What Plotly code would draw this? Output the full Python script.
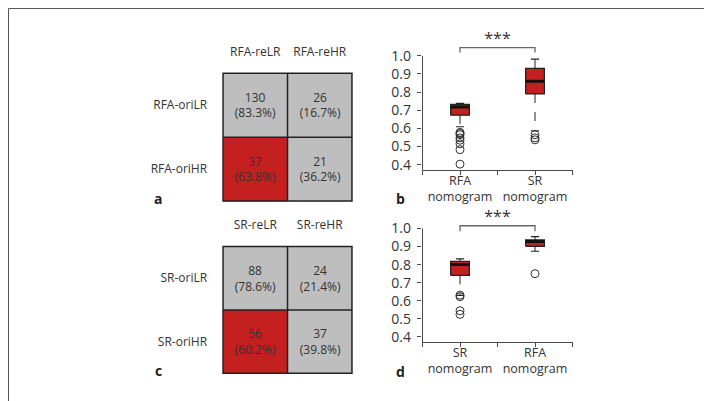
import plotly.graph_objects as go

W, H = 712, 401
RED = "#C4201F"
GRAY = "#BEBEBE"
INK = "#333333"
LINE = "#4a4a4a"
FONT = "Open Sans"

# panels a and c: original vs re-estimated risk groups
a_cols = ["RFA-reLR", "RFA-reHR"]
a_rows = ["RFA-oriLR", "RFA-oriHR"]
a_counts = [[130, 26], [37, 21]]
a_pcts = [[83.3, 16.7], [63.8, 36.2]]
a_flag = [[0, 0], [1, 0]]

c_cols = ["SR-reLR", "SR-reHR"]
c_rows = ["SR-oriLR", "SR-oriHR"]
c_counts = [[88, 24], [56, 37]]
c_pcts = [[78.6, 21.4], [60.2, 39.8]]
c_flag = [[0, 0], [1, 0]]

# panels b and d: boxplot statistics
b_labels = ["RFA<br>nomogram", "SR<br>nomogram"]
b_q1 = [0.673, 0.790]
b_med = [0.718, 0.860]
b_q3 = [0.733, 0.931]
b_lo = [0.609, 0.587]
b_hi = [0.738, 0.982]
b_out = [[0.578, 0.572, 0.565, 0.548, 0.535, 0.515, 0.483, 0.403], [0.565, 0.548, 0.537]]

d_labels = ["SR<br>nomogram", "RFA<br>nomogram"]
d_q1 = [0.741, 0.901]
d_med = [0.800, 0.928]
d_q3 = [0.818, 0.936]
d_lo = [0.630, 0.874]
d_hi = [0.832, 0.955]
d_out = [[0.631, 0.623, 0.545, 0.525], [0.750]]

# significance brackets
b_sig = dict(top=1.045, foot=1.018, star=1.087)
d_sig = dict(top=1.015, foot=0.985, star=1.057)

y_ticks = [0.4, 0.5, 0.6, 0.7, 0.8, 0.9, 1.0]


def px_x(a, b):
    return [a / W, b / W]


def px_y(top, bottom):
    return [1 - bottom / H, 1 - top / H]


def ax_id(n):
    return ("x", "y") if n == 1 else (f"x{n}", f"y{n}")


fig = go.Figure()


def add_table(n, cols, rows, counts, pcts, flag):
    xa, ya = ax_id(n)
    txt = [[f"{counts[i][j]}<br>({pcts[i][j]:.1f}%)" for j in range(2)] for i in range(2)]
    fig.add_trace(go.Heatmap(
        z=flag, x=cols, y=rows, text=txt, texttemplate="%{text}",
        textfont=dict(family=FONT, size=12, color=INK),
        colorscale=[[0, GRAY], [1, RED]], zmin=0, zmax=1, showscale=False,
        hoverinfo="skip", xaxis=xa, yaxis=ya))
    ref = dict(xref=xa, yref=ya, line=dict(color="#222", width=1.5))
    fig.add_shape(type="rect", x0=-0.5, x1=1.5, y0=-0.5, y1=1.5, **ref)
    fig.add_shape(type="line", x0=0.5, x1=0.5, y0=-0.5, y1=1.5, **ref)
    fig.add_shape(type="line", x0=-0.5, x1=1.5, y0=0.5, y1=0.5, **ref)


def add_boxes(n, q1, med, q3, lo, hi, out, sig):
    xa, ya = ax_id(n)
    w, cw = 0.125, 0.055
    for k in range(2):
        p = k + 1
        dash = dict(color="#222", width=1, dash="dash")
        fig.add_trace(go.Scatter(x=[p, p, None, p, p], y=[q3[k], hi[k], None, q1[k], lo[k]],
                                 mode="lines", line=dash, xaxis=xa, yaxis=ya, hoverinfo="skip"))
        fig.add_trace(go.Scatter(x=[p - cw, p + cw, None, p - cw, p + cw], y=[hi[k], hi[k], None, lo[k], lo[k]],
                                 mode="lines", line=dict(color="#222", width=1.2), xaxis=xa, yaxis=ya, hoverinfo="skip"))
        fig.add_trace(go.Scatter(x=[p - w, p + w, p + w, p - w, p - w], y=[q1[k], q1[k], q3[k], q3[k], q1[k]],
                                 mode="lines", fill="toself", fillcolor=RED,
                                 line=dict(color="#222", width=1.3), xaxis=xa, yaxis=ya, hoverinfo="skip"))
        fig.add_trace(go.Scatter(x=[p - w, p + w], y=[med[k], med[k]], mode="lines",
                                 line=dict(color="#111", width=3), xaxis=xa, yaxis=ya, hoverinfo="skip"))
        fig.add_trace(go.Scatter(x=[p] * len(out[k]), y=out[k], mode="markers",
                                 marker=dict(symbol="circle-open", size=8, color="#333", line=dict(width=1)),
                                 xaxis=xa, yaxis=ya, hoverinfo="skip"))
    # bracket + stars
    fig.add_trace(go.Scatter(x=[1, 1, 2, 2], y=[sig["foot"], sig["top"], sig["top"], sig["foot"]],
                             mode="lines", line=dict(color="#666", width=1.3), xaxis=xa, yaxis=ya, hoverinfo="skip"))
    fig.add_trace(go.Scatter(x=[1.5], y=[sig["star"]], mode="text", text=["***"], cliponaxis=False,
                             textfont=dict(family=FONT, size=16, color=INK), xaxis=xa, yaxis=ya, hoverinfo="skip"))
    # y axis line from bottom to 1.0
    fig.add_shape(type="line", xref=xa, yref=ya, x0=0.5, x1=0.5, y0=0.3, y1=1.0,
                  line=dict(color=LINE, width=1))


add_table(1, a_cols, a_rows, a_counts, a_pcts, a_flag)
add_boxes(2, b_q1, b_med, b_q3, b_lo, b_hi, b_out, b_sig)
add_table(3, c_cols, c_rows, c_counts, c_pcts, c_flag)
add_boxes(4, d_q1, d_med, d_q3, d_lo, d_hi, d_out, d_sig)

tfont = dict(family=FONT, size=12, color=INK)
tab_x = dict(range=[-0.53, 1.53], side="top", ticks="", showgrid=False, zeroline=False,
             tickfont=tfont, fixedrange=True, ticklabelstandoff=12)
tab_y = dict(range=[1.53, -0.53], ticks="", showgrid=False, zeroline=False,
             tickfont=tfont, fixedrange=True, ticklabelstandoff=13)

box_x = dict(range=[0.49, 2.5], tickvals=[0.5, 1, 1.5, 2, 2.5], showgrid=False, zeroline=False,
             showline=True, linecolor=LINE, linewidth=1, ticks="outside", ticklen=4,
             tickcolor=LINE, tickfont=dict(family=FONT, size=12.5, color=INK),
             ticklabelstandoff=-5)
box_y = dict(range=[0.372, 1.1], tickvals=y_ticks, tickformat=".1f", showgrid=False,
             zeroline=False, showline=False, ticks="outside", ticklen=4, tickcolor=LINE,
             tickfont=dict(family=FONT, size=14, color=INK), ticklabelstandoff=3)

fig.update_layout(
    width=W, height=H, margin=dict(l=0, r=0, t=0, b=0),
    paper_bgcolor="white", plot_bgcolor="rgba(0,0,0,0)", showlegend=False,
    font=dict(family=FONT, color=INK),
    xaxis=dict(tab_x, domain=px_x(213.1, 345.9), anchor="y"),
    yaxis=dict(tab_y, domain=px_y(64.1, 196.9), anchor="x"),
    xaxis3=dict(tab_x, domain=px_x(213.1, 345.9), anchor="y3"),
    yaxis3=dict(tab_y, domain=px_y(239.1, 370.9), anchor="x3"),
    xaxis2=dict(box_x, domain=px_x(413.75, 564.5), anchor="y2",
                ticktext=["", b_labels[0], "", b_labels[1], ""]),
    yaxis2=dict(box_y, domain=px_y(30.0, 163.4), anchor="x2"),
    xaxis4=dict(box_x, domain=px_x(413.75, 564.5), anchor="y4",
                ticktext=["", d_labels[0], "", d_labels[1], ""]),
    yaxis4=dict(box_y, domain=px_y(204.4, 337.4), anchor="x4"),
)

for lbl, x, y in [("a", 150, 192), ("b", 392, 192), ("c", 150, 366), ("d", 392, 367)]:
    fig.add_annotation(text=f"<b>{lbl}</b>", x=x / W, y=1 - y / H, xref="paper", yref="paper",
                       showarrow=False, xanchor="center", yanchor="middle",
                       font=dict(family=FONT, size=14, color="#222"))

# outer frame
fig.add_shape(type="rect", xref="paper", yref="paper", x0=0.5 / W, x1=1 - 1.5 / W,
              y0=1.5 / H, y1=1 - 0.5 / H, line=dict(color="#555", width=1))

fig.write_html("out.html")
